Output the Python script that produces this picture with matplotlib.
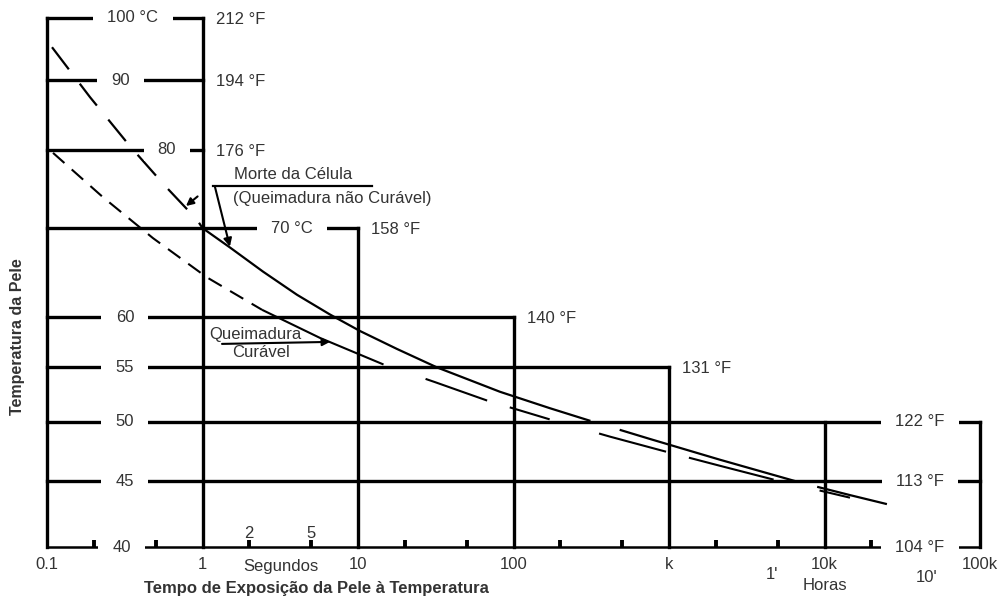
import numpy as np
import matplotlib
matplotlib.use("Agg")
import matplotlib.pyplot as plt
from matplotlib.path import Path
from matplotlib.ticker import NullFormatter

plt.rcParams['font.family'] = ['Liberation Sans', 'DejaVu Sans']
plt.rcParams['lines.scale_dashes'] = False

# Temperature levels (°C) with their Fahrenheit equivalents
temps_c = [100, 90, 80, 70, 60, 55, 50, 45, 40]
temps_f = [212, 194, 176, 158, 140, 131, 122, 113, 104]
labels_c = ['100 °C', '90', '80', '70 °C', '60', '55', '50', '45', '40']
# exposure time (s) where each temperature line stops
line_end_t = [1, 1, 1, 10, 100, 1000, 1e5, 1e5, 1e5]
# time (s) at which each °C label sits on its line
label_c_t = [0.357, 0.299, 0.591, 3.76, 0.317, 0.317, 0.317, 0.317, 0.303]

# Decade markers on the time axis and the temperature they rise to
decade_t = [0.1, 1, 10, 100, 1000, 1e4, 1e5]
decade_top = [100, 100, 70, 60, 55, 50, 50]
decade_labels = ['0.1', '1', '10', '100', 'k', '10k', '100k']
minor_t = [0.2, 0.5, 2, 5, 20, 50, 200, 500, 2000, 5000, 20000]

# Cell death threshold (non-curable burn): time (s), skin temperature (°C)
death_t = [0.1077, 0.189, 0.342, 0.574, 0.922, 1.0, 1.503, 2.449, 4.053,
           6.61, 10.3, 17.8, 32.2, 81.9, 171.7, 324.6, 754.6, 2128, 6959,
           14590, 25200]
death_T = [95.2, 87.5, 80.5, 75.25, 71.0, 70.0, 67.7, 64.95, 62.4,
           60.3, 58.6, 56.8, 55.0, 52.7, 51.2, 50.0, 48.5, 46.75, 44.9,
           43.9, 43.2]

# Curable burn threshold: time (s), skin temperature (°C)
curable_t = [0.1093, 0.2291, 0.4805, 1.069, 2.413, 5.697, 14.48, 31.27,
             67.54, 171.7, 417.5, 970.9, 2128, 4805, 14585]
curable_T = [79.6, 73.8, 68.8, 64.3, 60.8, 57.9, 55.3, 53.6,
             51.9, 50.2, 48.7, 47.4, 46.25, 45.1, 43.7]

INK = 'black'
TXT = '#333333'
FS = 12


def gap_box(x0, y0, width, height, mutation_size):
    """White box that cuts a gap in a line around its label."""
    padx = 0.85 * mutation_size
    pady = 0.2 * mutation_size
    xa, xb = x0 - padx, x0 + width + padx
    ya, yb = y0 - pady, y0 + height + pady
    return Path([(xa, ya), (xb, ya), (xb, yb), (xa, yb), (xa, ya)],
                [Path.MOVETO, Path.LINETO, Path.LINETO, Path.LINETO,
                 Path.CLOSEPOLY])


GAP = dict(boxstyle=gap_box, fc='white', ec='none')

fig = plt.figure(figsize=(10, 5.97), dpi=100)
ax = fig.add_axes([0.047, 1 - 547 / 597, 0.933, 529 / 597])
ax.set_xscale('log')
ax.set_yscale('function', functions=(lambda T: np.log10(np.asarray(T) + 5),
                                      lambda y: 10 ** np.asarray(y) - 5))
ax.set_xlim(0.1, 1e5)
ax.set_ylim(40, 100)
for s in ax.spines.values():
    s.set_visible(False)
ax.set_yticks([])

# temperature lines
for T, end in zip(temps_c, line_end_t):
    ax.plot([0.1, end], [T, T], color=INK, lw=1.8 if T == 40 else 2.4,
            clip_on=False, zorder=2)
# decade verticals
for t, top in zip(decade_t, decade_top):
    ax.plot([t, t], [40, top], color=INK, lw=2.4, clip_on=False, zorder=2)

# °C labels sitting in gaps of the lines
for T, t, lab in zip(temps_c, label_c_t, labels_c):
    ax.text(t, T, lab, ha='center', va='center', fontsize=FS, color=TXT,
            bbox=GAP, zorder=5)

# °F labels
for T, F, end in zip(temps_c, temps_f, line_end_t):
    if end < 1e5:
        ax.annotate(f'{F} °F', xy=(end, T), xytext=(9.4, -1),
                    textcoords='offset points', ha='left', va='center',
                    fontsize=FS, color=TXT)
    else:
        ax.text(41100, T, f'{F} °F', ha='center', va='center', fontsize=FS,
                color=TXT, bbox=GAP, zorder=5)

# threshold curves
ax.plot(death_t[:6], death_T[:6], color=INK, lw=1.6, dashes=(20, 13),
        zorder=3)
ax.plot(death_t[5:], death_T[5:], color=INK, lw=1.6,
        dashes=(314, 22, 133, 15, 60, 10), zorder=3)
ax.plot(curable_t[:5], curable_T[:5], color=INK, lw=1.5, dashes=(11, 7),
        zorder=3)
ax.plot(curable_t[4:], curable_T[4:], color=INK, lw=1.5,
        dashes=(96, 32, 47, 17, 30, 37, 50, 17, 63, 34, 40, 10), zorder=3)

# annotations
ax.text(3.82, 76.7, 'Morte da Célula', ha='center', va='center',
        fontsize=FS, color=TXT)
ax.text(6.81, 73.7, '(Queimadura não Curável)', ha='center', va='center',
        fontsize=FS, color=TXT)
ax.plot([1.168, 12.3], [75.2, 75.2], color=INK, lw=1.6, zorder=3)
ax.annotate('', xy=(1.50, 67.8), xytext=(1.203, 75.1),
            arrowprops=dict(arrowstyle='-|>', color=INK, lw=1.5,
                            mutation_scale=12, shrinkA=0, shrinkB=0))
ax.annotate('', xy=(0.783, 72.7), xytext=(0.93, 73.9),
            arrowprops=dict(arrowstyle='-|>', color=INK, lw=1.5,
                            mutation_scale=11, shrinkA=0, shrinkB=0))

ax.text(2.18, 58.2, 'Queimadura', ha='center', va='center', fontsize=FS,
        color=TXT)
ax.text(2.38, 56.4, 'Curável', ha='center', va='center', fontsize=FS,
        color=TXT)
ax.annotate('', xy=(6.61, 57.5), xytext=(1.335, 57.3),
            arrowprops=dict(arrowstyle='-|>', color=INK, lw=1.5,
                            mutation_scale=11, shrinkA=0, shrinkB=0))

# time axis ticks
ax.set_xticks(decade_t, decade_labels)
ax.set_xticks(minor_t, minor=True)
ax.xaxis.set_minor_formatter(NullFormatter())
ax.tick_params(axis='x', which='major', length=0, pad=7, labelsize=FS,
               labelcolor=TXT)
ax.tick_params(axis='x', which='minor', direction='in', length=5, width=2.8,
               color=INK)

for t in (2, 5):
    ax.annotate(str(t), xy=(t, 40), xytext=(0, 10), textcoords='offset points',
                ha='center', va='center', fontsize=FS, color=TXT)
ax.annotate('Segundos', xy=(3.2, 40), xytext=(0, -14.4),
            textcoords='offset points', ha='center', va='center',
            fontsize=FS, color=TXT, annotation_clip=False)
ax.annotate("1'", xy=(4590, 40), xytext=(0, -20),
            textcoords='offset points', ha='center', va='center',
            fontsize=FS, color=TXT, annotation_clip=False)
ax.annotate("10'", xy=(45600, 40), xytext=(0, -21.6),
            textcoords='offset points', ha='center', va='center',
            fontsize=FS, color=TXT, annotation_clip=False)
ax.annotate('Horas', xy=(1e4, 40), xytext=(0, -27.4),
            textcoords='offset points', ha='center', va='center',
            fontsize=FS, color=TXT, annotation_clip=False)

fig.text(0.316, 1 - 588 / 597, 'Tempo de Exposição da Pele à Temperatura',
         ha='center', va='center', fontsize=12, fontweight='bold', color=TXT)
fig.text(0.018, 1 - 337 / 597, 'Temperatura da Pele', rotation=90,
         ha='center', va='center', fontsize=11.5, fontweight='bold', color=TXT)

fig.savefig('out.png', dpi=100, facecolor='white')
